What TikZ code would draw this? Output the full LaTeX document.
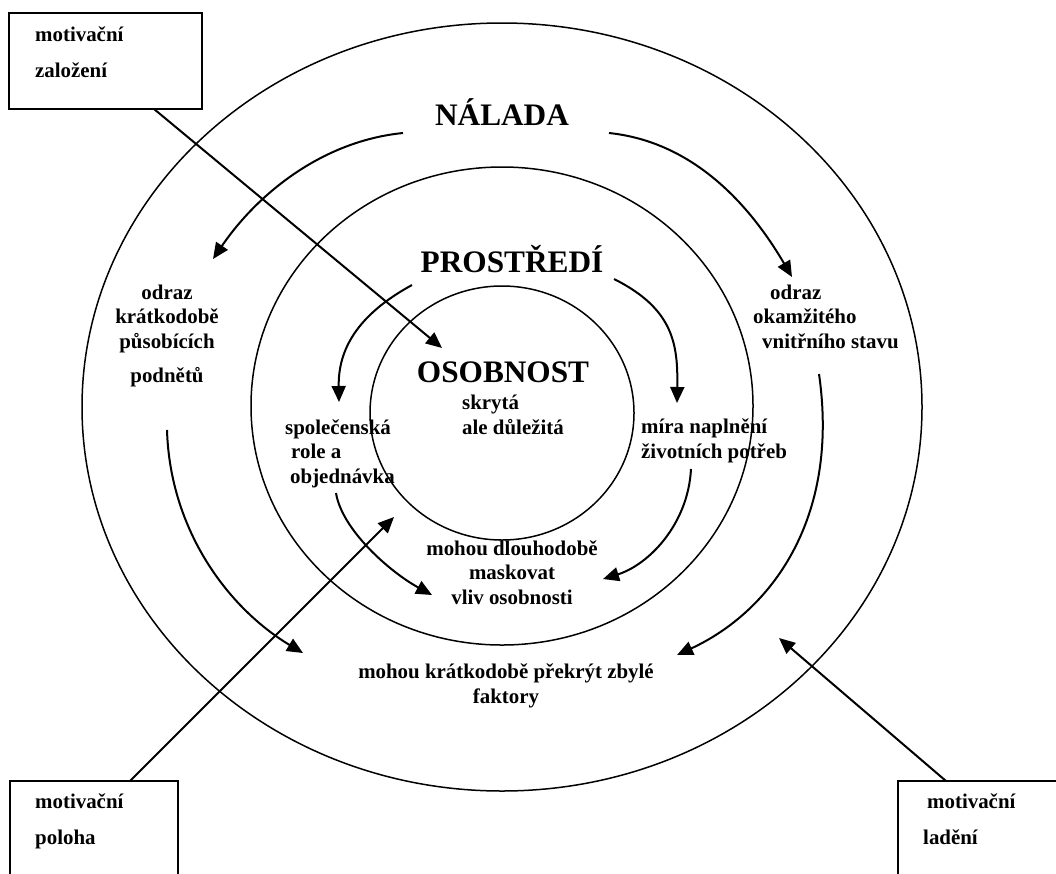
\documentclass[tikz,border=0pt]{standalone}
\usepackage{fontspec}
\setmainfont{Liberation Serif}
\usetikzlibrary{arrows.meta, shapes.geometric}
\newcommand{\lblfont}{\fontsize{20.9}{24.5}\selectfont\bfseries}
\newcommand{\bigfont}{\fontsize{31.3}{36}\selectfont\bfseries}
\tikzset{
  ring/.style={ellipse, draw, line width=1.5pt, inner sep=0pt, outer sep=0pt},
  frame/.style={draw, line width=2pt, inner sep=0pt, outer sep=0pt, anchor=north west},
  arr/.style={-{Triangle[length=16pt, width=14pt]}, line width=2pt},
  lbl/.style={font=\lblfont, inner sep=0pt},
  big/.style={font=\bigfont, inner sep=0pt, anchor=base}
}
\begin{document}
\begin{tikzpicture}[x=1pt, y=-1pt]
  \useasboundingbox (0,0) rectangle (1056,873);
  \clip (0,0) rectangle (1056,873);
  % rings
  \node[ring, minimum width=840pt, minimum height=768pt] (outer) at (502,407) {};
  \node[ring, minimum width=502pt, minimum height=478pt] (middle) at (502,406) {};
  \node[ring, minimum width=264pt, minimum height=254pt] (inner) at (502,413) {};
  % headings
  \node[big] (nalada) at (502,125) {NÁLADA};
  \node[big] (prostredi) at (512,272) {PROSTŘEDÍ};
  \node[big] (osobnost) at (503,382) {OSOBNOST};
  % labels (anchored at the last line)
  \node[lbl, anchor=base west, align=left] (skryta) at (462,434) {skrytá\\ale důležitá};
  \node[lbl, anchor=base, align=center] (odrazL) at (167,382)
    {odraz\\krátkodobě\\působících\\[9.5pt]podnětů};
  \node[lbl, anchor=base west, align=left] (odrazR) at (753,348)
    {\hspace*{17pt}odraz\\okamžitého\\\hspace*{9pt}vnitřního stavu};
  \node[lbl, anchor=base west, align=left] (role) at (285,483)
    {společenská\\\hspace*{6pt}role a\\\hspace*{5pt}objednávka};
  \node[lbl, anchor=base west, align=left] (mira) at (641,458) {míra naplnění\\životních potřeb};
  \node[lbl, anchor=base, align=center] (dlouho) at (512,604)
    {mohou dlouhodobě\\maskovat\\vliv osobnosti};
  \node[lbl, anchor=base, align=center] (kratko) at (506,703)
    {mohou krátkodobě překrýt zbylé\\faktory};
  % boxes
  \node[frame, minimum width=193pt, minimum height=96pt] (zal) at (9,13) {};
  \node[frame, minimum width=168pt, minimum height=140pt] (pol) at (10,781) {};
  \node[frame, minimum width=200pt, minimum height=140pt] (lad) at (898,781) {};
  \node[lbl, anchor=base west, align=left] (zalT) at (35,77) {motivační\\[11.5pt]založení};
  \node[lbl, anchor=base west, align=left] (polT) at (35,844) {motivační\\[11.5pt]poloha};
  \node[lbl, anchor=base west, align=left] (ladT) at (927,844)
    {motivační\\[11.5pt]\hspace*{-4pt}ladění};
  % arrow ends
  \coordinate (tipA) at (442,348);
  \coordinate (tipB) at (394,517);
  \coordinate (tipC) at (779,638);
  \coordinate (n1) at (403,133);  \coordinate (n1e) at (213,259);
  \coordinate (n2) at (609,133);  \coordinate (n2e) at (792,277);
  \coordinate (p1) at (412,285);  \coordinate (p1e) at (339,402);
  \coordinate (p2) at (614,279);  \coordinate (p2e) at (677,403);
  \coordinate (r1) at (336,493);  \coordinate (r1e) at (432,595);
  \coordinate (m1) at (691,469);  \coordinate (m1e) at (603,579);
  \coordinate (o1) at (167,430);  \coordinate (o1e) at (303,653);
  \coordinate (o2) at (819,374);  \coordinate (o2e) at (677,655);
  % straight arrows
  \draw[arr] ([xshift=145pt]zal.south west) -- (tipA);
  \draw[arr] ([xshift=120pt]pol.north west) -- (tipB);
  \draw[arr] ([xshift=48pt]lad.north west) -- (tipC);
  % curved arrows
  \draw[arr] (n1) .. controls (323,141) and (258,193) .. (n1e);
  \draw[arr] (n2) .. controls (695,142) and (751,207) .. (n2e);
  \draw[arr] (p1) .. controls (357,315) and (338,350) .. (p1e);
  \draw[arr] (p2) .. controls (674,309) and (678,345) .. (p2e);
  \draw[arr] (r1) .. controls (342,530) and (390,572) .. (r1e);
  \draw[arr] (m1) .. controls (688,525) and (648,565) .. (m1e);
  \draw[arr] (o1) .. controls (170,530) and (228,608) .. (o1e);
  \draw[arr] (o2) .. controls (840,520) and (770,612) .. (o2e);
\end{tikzpicture}
\end{document}
